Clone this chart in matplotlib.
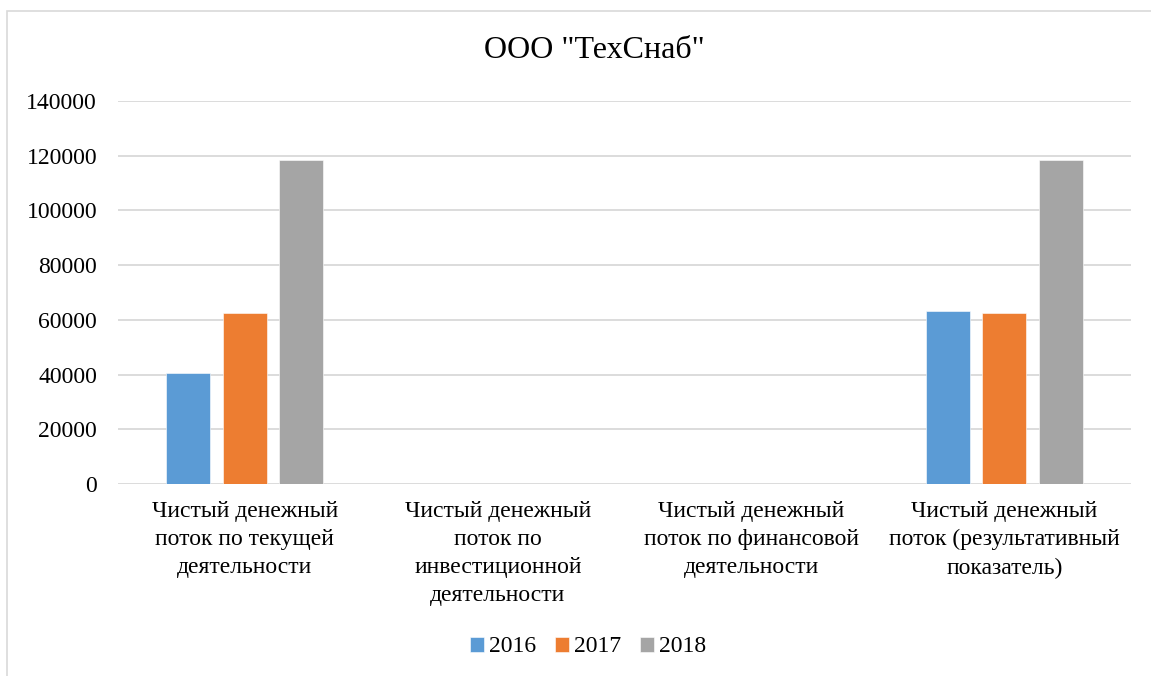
import numpy as np
import matplotlib.pyplot as plt
from matplotlib.patches import Rectangle

plt.rcParams['font.family'] = ['Liberation Serif', 'DejaVu Serif']

categories = ["Чистый денежный\nпоток по текущей\nдеятельности",
              "Чистый денежный\nпоток по\nинвестиционной\nдеятельности",
              "Чистый денежный\nпоток по финансовой\nдеятельности",
              "Чистый денежный\nпоток (результативный\nпоказатель)"]
years = ["2016", "2017", "2018"]
v2016 = [40500, 0, 0, 63100]
v2017 = [62400, 0, 0, 62400]
v2018 = [118300, 0, 0, 118300]
colors = ["#5B9BD5", "#ED7D31", "#A5A5A5"]

fig = plt.figure(figsize=(11.51, 6.76), dpi=100)
# outer chart frame
fig.patches.append(Rectangle((7/1151, -0.1), 1.2, (676-11)/676 + 0.1,
                             transform=fig.transFigure, fill=False,
                             edgecolor="#d9d9d9", linewidth=1.2))

ax = fig.add_axes([118/1151, 1-484/676, 1013/1151, 383/676])
x = np.arange(len(categories))
w = 0.174
step = 0.222
for i, vals in enumerate([v2016, v2017, v2018]):
    ax.bar(x + (i-1)*step, vals, width=w, color=colors[i], label=years[i],
           edgecolor="white", linewidth=0.4, zorder=3)

ax.set_xlim(-0.5, 3.5)
ax.set_ylim(0, 140000)
ax.set_yticks(np.arange(0, 140001, 20000))
ax.yaxis.grid(True, color="#d9d9d9", linewidth=1.3, zorder=0)
ax.set_axisbelow(True)
for s in ax.spines.values():
    s.set_visible(False)
ax.tick_params(axis='y', length=0, pad=15, labelsize=17)
ax.tick_params(axis='x', length=0, pad=12)
ax.set_xticks(x)
ax.set_xticklabels(categories, fontsize=17, linespacing=1.45)

fig.text(0.516, 1-50/676, 'ООО "ТехСнаб"', ha="center", va="center", fontsize=23)

fig.legend(loc="center", bbox_to_anchor=(0.511, 1-647/676), ncol=3, frameon=False,
           fontsize=17, handlelength=0.6, handleheight=0.6, handletextpad=0.2,
           columnspacing=0.8)

plt.savefig("out.png", dpi=100)
